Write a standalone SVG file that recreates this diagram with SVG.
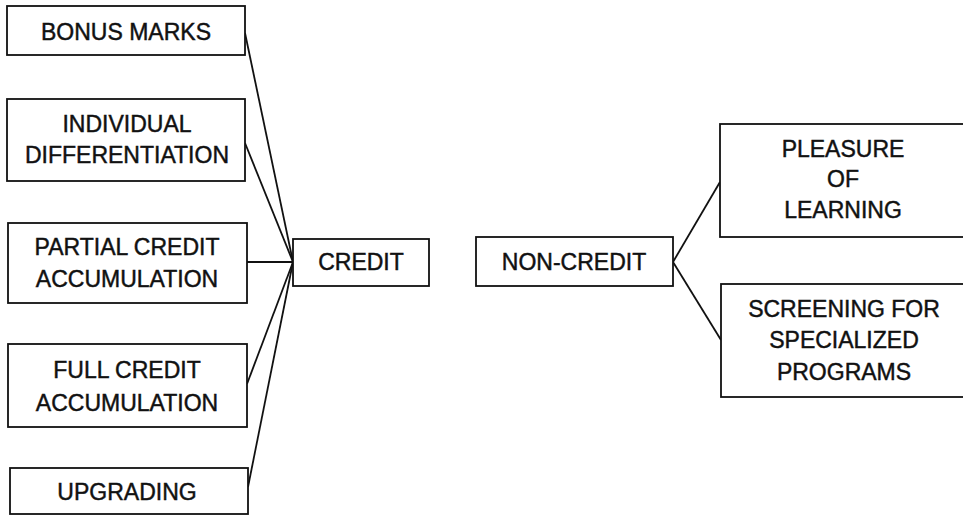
<svg xmlns="http://www.w3.org/2000/svg" width="963" height="516" viewBox="0 0 963 516">
  <style>
    .box { fill: #fff; stroke: #111; stroke-width: 1.8; }
    .lbl { font-family: "Liberation Sans", Arial, sans-serif; font-size: 23px; fill: #111; stroke: #111; stroke-width: 0.45; text-anchor: middle; }
    .link { stroke: #111; stroke-width: 1.8; fill: none; }
  </style>
  <rect width="963" height="516" fill="#fff"/>

  <!-- connectors -->
  <g id="connectors">
    <line class="link" x1="245" y1="33" x2="293" y2="262"/>
    <line class="link" x1="245" y1="143" x2="293" y2="262"/>
    <line class="link" x1="247" y1="262" x2="293" y2="262"/>
    <line class="link" x1="247" y1="384" x2="293" y2="262"/>
    <line class="link" x1="248" y1="487" x2="293" y2="262"/>
    <line class="link" x1="673" y1="262" x2="720" y2="182"/>
    <line class="link" x1="673" y1="262" x2="721" y2="340"/>
  </g>

  <!-- credit branch -->
  <g id="bonus-marks">
    <rect class="box" x="7" y="6" width="238" height="49"/>
    <text class="lbl" x="126" y="40">BONUS MARKS</text>
  </g>
  <g id="individual-differentiation">
    <rect class="box" x="7" y="99" width="238" height="82"/>
    <text class="lbl" x="127" y="132">INDIVIDUAL</text>
    <text class="lbl" x="127" y="163">DIFFERENTIATION</text>
  </g>
  <g id="partial-credit">
    <rect class="box" x="8" y="223" width="239" height="80"/>
    <text class="lbl" x="127" y="255">PARTIAL CREDIT</text>
    <text class="lbl" x="127" y="287">ACCUMULATION</text>
  </g>
  <g id="full-credit">
    <rect class="box" x="8" y="344" width="239" height="83"/>
    <text class="lbl" x="127" y="378">FULL CREDIT</text>
    <text class="lbl" x="127" y="411">ACCUMULATION</text>
  </g>
  <g id="upgrading">
    <rect class="box" x="10" y="468" width="238" height="46"/>
    <text class="lbl" x="127" y="500">UPGRADING</text>
  </g>
  <g id="credit">
    <rect class="box" x="293" y="239" width="136" height="47"/>
    <text class="lbl" x="361" y="270">CREDIT</text>
  </g>

  <!-- non-credit branch -->
  <g id="non-credit">
    <rect class="box" x="476" y="237" width="197" height="49"/>
    <text class="lbl" x="574" y="270">NON-CREDIT</text>
  </g>
  <g id="pleasure-of-learning">
    <rect class="box" x="720" y="124" width="250" height="113"/>
    <text class="lbl" x="843" y="157">PLEASURE</text>
    <text class="lbl" x="843" y="187">OF</text>
    <text class="lbl" x="843" y="218">LEARNING</text>
  </g>
  <g id="screening">
    <rect class="box" x="721" y="284" width="250" height="113"/>
    <text class="lbl" x="844" y="317">SCREENING FOR</text>
    <text class="lbl" x="844" y="348">SPECIALIZED</text>
    <text class="lbl" x="844" y="380">PROGRAMS</text>
  </g>
</svg>
